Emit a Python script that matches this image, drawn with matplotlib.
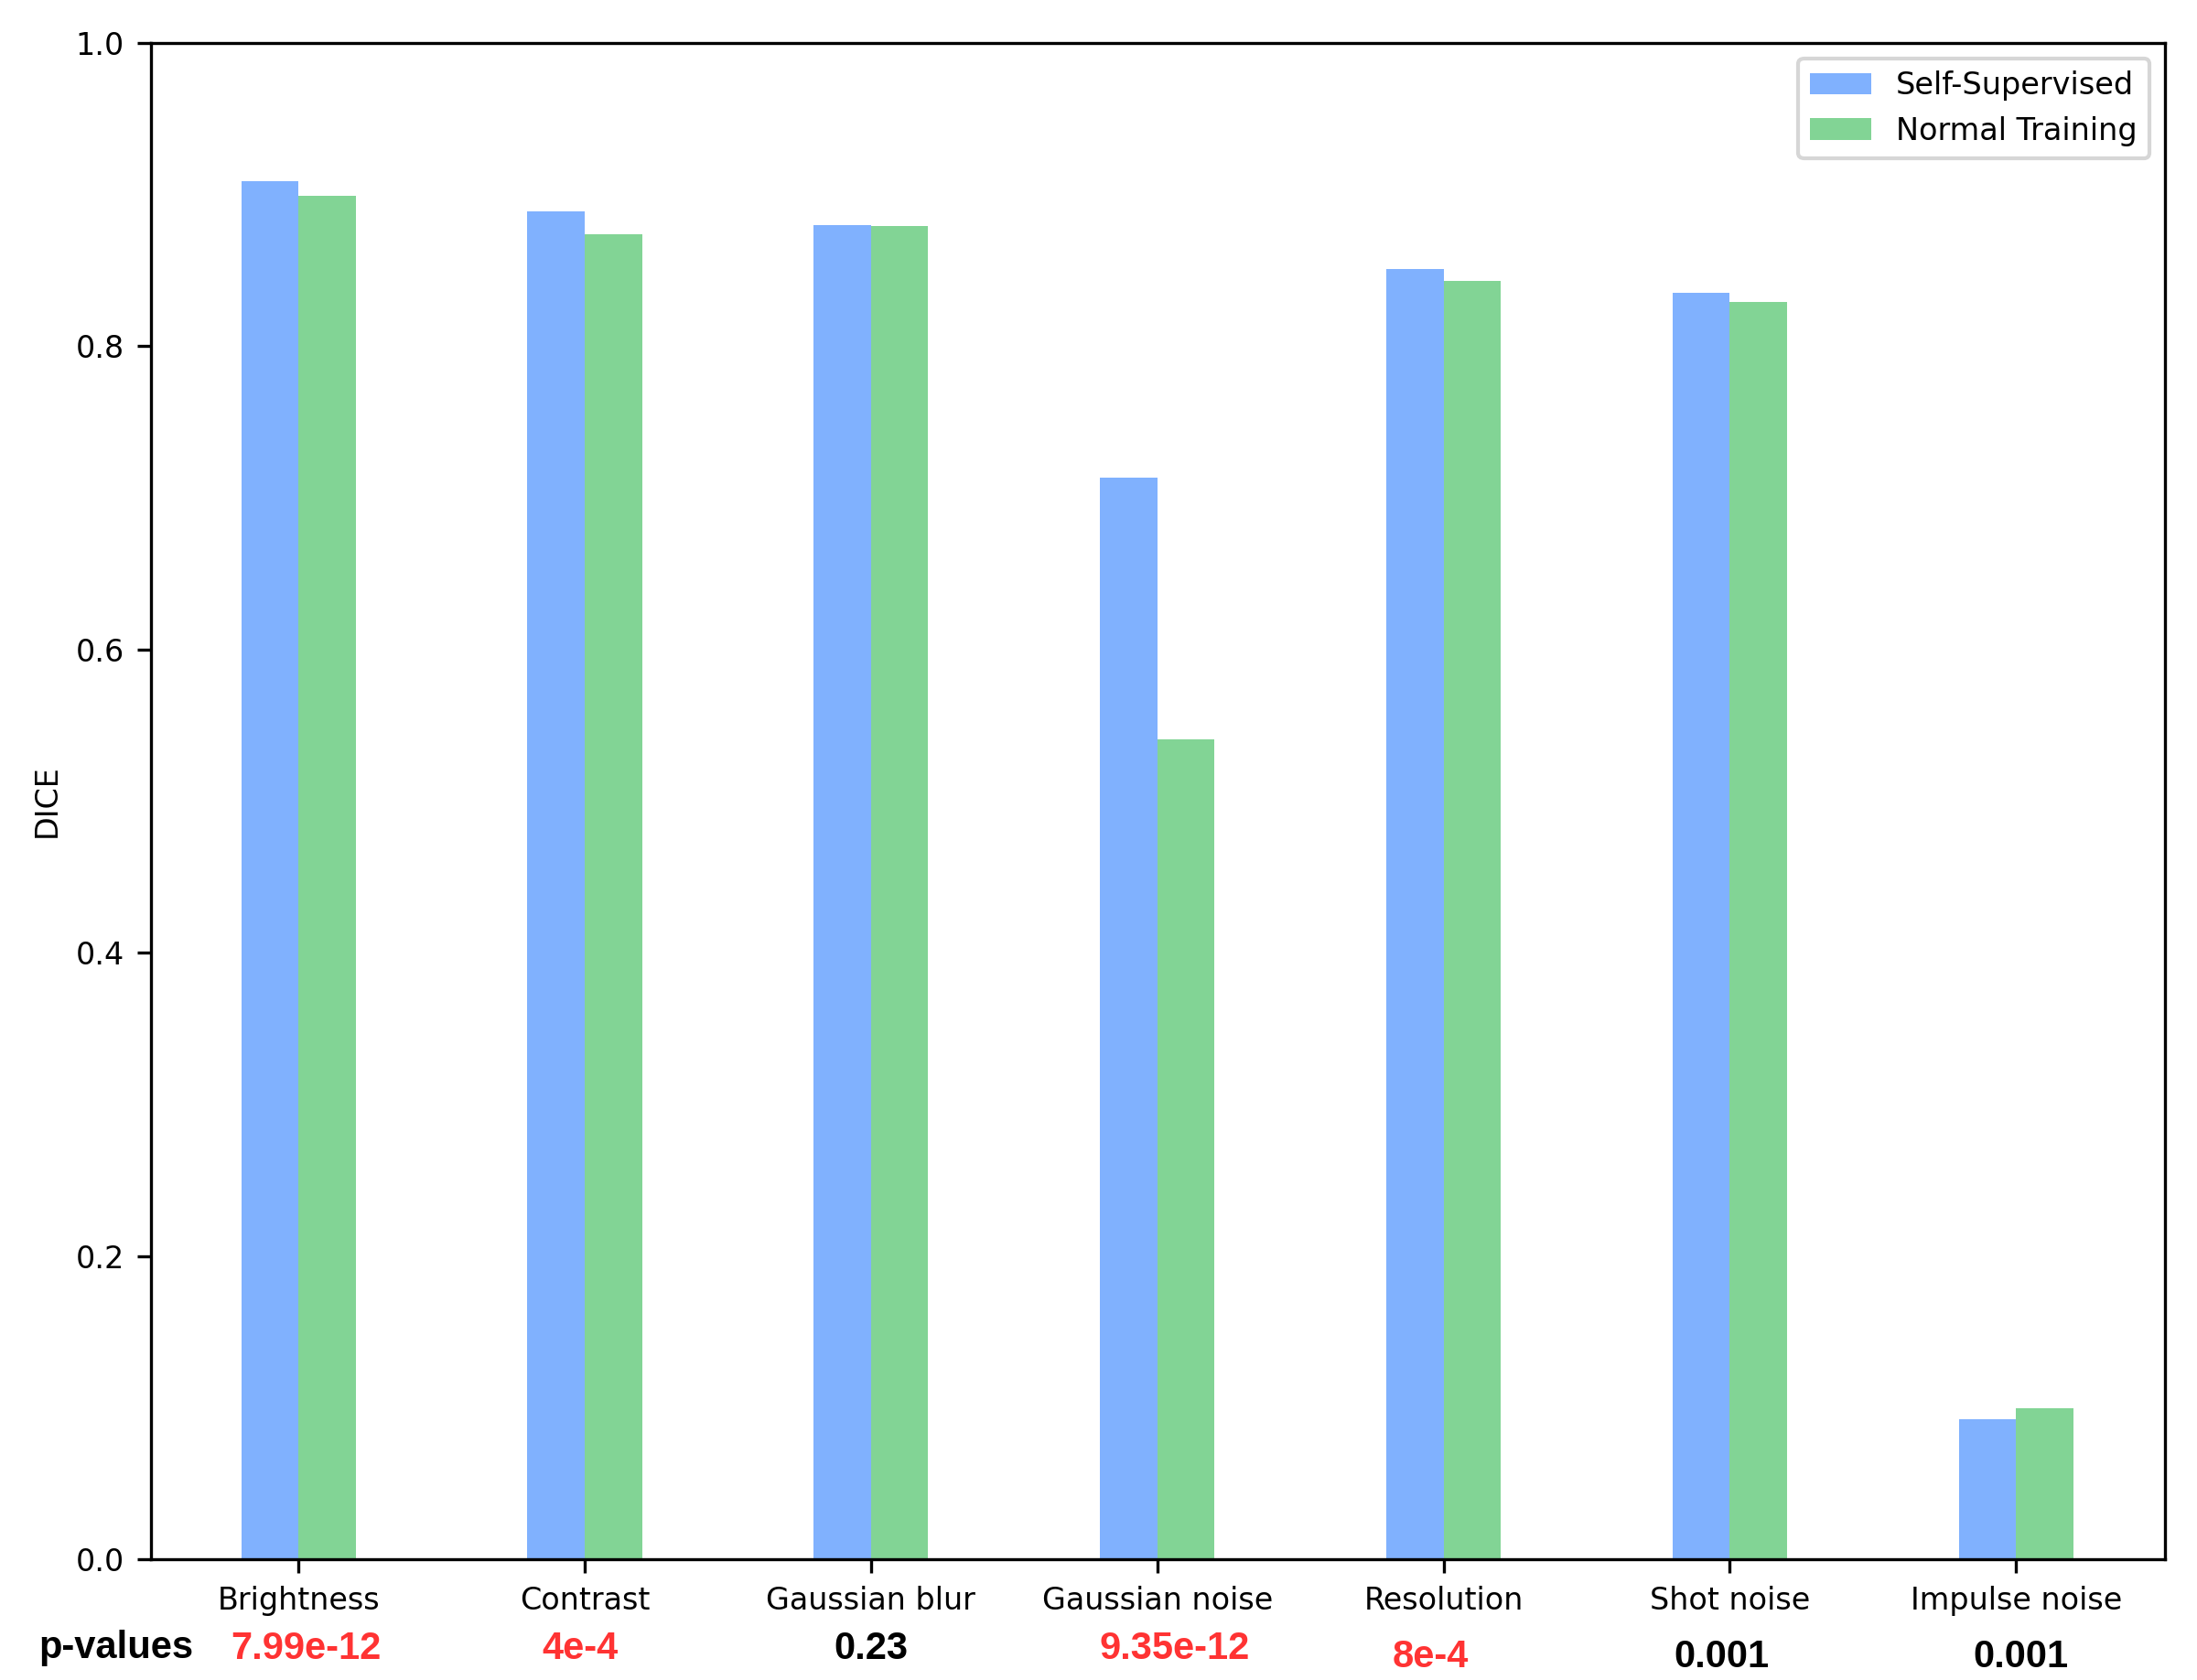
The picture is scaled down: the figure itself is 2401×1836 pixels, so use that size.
import matplotlib
matplotlib.use("Agg")
import matplotlib.pyplot as plt
import numpy as np
from matplotlib.transforms import blended_transform_factory

categories = ["Brightness", "Contrast", "Gaussian blur", "Gaussian noise",
              "Resolution", "Shot noise", "Impulse noise"]
self_supervised = [0.909, 0.889, 0.880, 0.7135, 0.851, 0.8355, 0.0925]
normal_training = [0.899, 0.874, 0.879, 0.5405, 0.843, 0.829, 0.0995]
p_values = ["7.99e-12", "4e-4", "0.23", "9.35e-12", "8e-4", "0.001", "0.001"]
p_significant = [True, True, False, True, True, False, False]

# layout-only tweaks for the p-value labels
p_dx = [0.025, -0.015, 0.0, 0.06, -0.045, -0.03, 0.015]
p_y = [1802, 1802, 1802, 1802, 1811, 1811, 1811]

W, H, DPI = 2401, 1836, 300
fig = plt.figure(figsize=(W / DPI, H / DPI), dpi=DPI)
ax = fig.add_axes([165 / W, 1 - 1704 / H, (2366 - 165) / W, (1704 - 47) / H])

x = np.arange(len(categories))
width = 0.2
ax.bar(x - width / 2, self_supervised, width, color="#80b1fe", label="Self-Supervised")
ax.bar(x + width / 2, normal_training, width, color="#82d495", label="Normal Training")

ax.set_xlim(-0.515, 6.52)
ax.set_ylim(0, 1.0)
ax.set_xticks(x)
ax.set_xticklabels(categories, fontsize=8.0)
ax.set_yticks(np.arange(0, 1.01, 0.2))
ax.set_yticklabels([f"{v:.1f}" for v in np.arange(0, 1.01, 0.2)], fontsize=8.0)
ax.set_ylabel("DICE", fontsize=8.0)
ax.yaxis.set_label_coords(-0.044, 0.5)

ax.legend(loc="upper right", fontsize=8.05)

fig.text(127 / W, 1 - 1801 / H, "p-values", ha="center", va="center",
         fontsize=10, fontweight="bold", family=["Liberation Sans", "DejaVu Sans"])

trans = blended_transform_factory(ax.transData, fig.transFigure)
for i, (pv, sig) in enumerate(zip(p_values, p_significant)):
    ax.text(x[i] + p_dx[i], 1 - p_y[i] / H, pv, transform=trans, ha="center", va="center",
            fontsize=10, fontweight="bold", color="#ff3333" if sig else "black",
            family=["Liberation Sans", "DejaVu Sans"], clip_on=False)

fig.savefig("out.png", dpi=DPI)
